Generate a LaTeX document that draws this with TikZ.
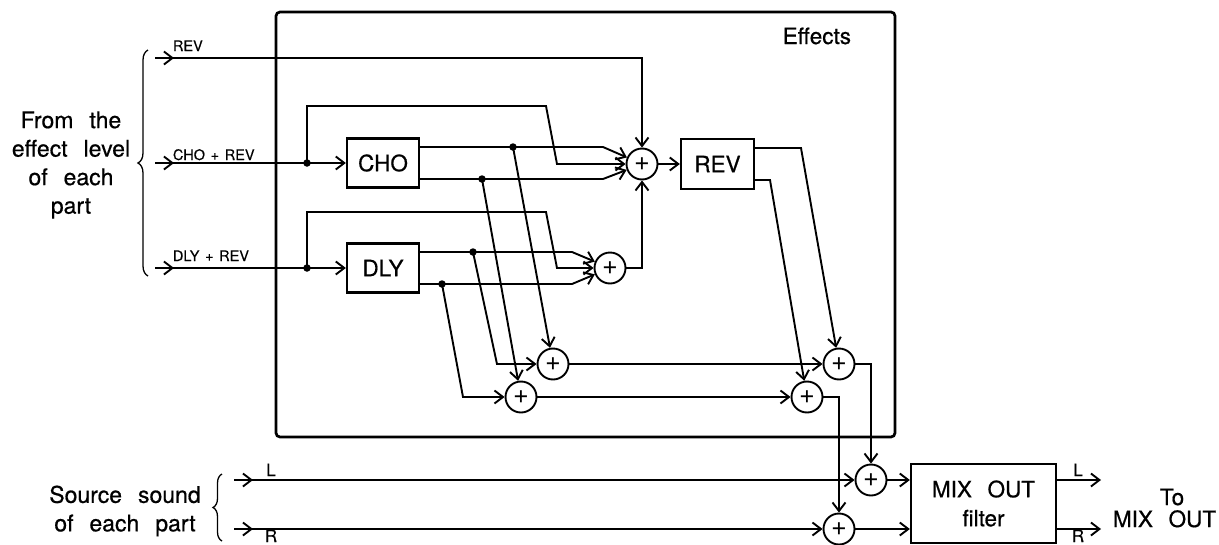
\documentclass[tikz,border=0pt]{standalone}
\usepackage{fontspec}
\setmainfont[WordSpace=2.5,FakeBold=0.6]{TeX Gyre Heros}
\newfontfamily\lblfont[WordSpace=1.4,FakeBold=0.4]{TeX Gyre Heros}
\newfontfamily\plusfont{TeX Gyre Heros}
\usetikzlibrary{arrows.meta,decorations.pathreplacing,calc}
\begin{document}
\begin{tikzpicture}[x=1pt,y=-1pt,
  line width=1.9pt,
  arr/.style={-{Straight Barb[length=8.5pt,width=13pt]}},
  blk/.style={draw, line width=2.3pt, minimum width=72pt, minimum height=49pt, inner sep=0pt, font=\fontsize{22.5}{27}\selectfont},
  sum/.style={draw, circle, line width=1.9pt, minimum size=31pt, inner sep=0pt, font=\plusfont\fontsize{27}{27}\selectfont},
  dot/.style={circle, fill, inner sep=0pt, minimum size=7.5pt},
  lab/.style={font=\lblfont\fontsize{14.5}{16}\selectfont, inner sep=0pt},
  lr/.style={font=\lblfont\fontsize{17}{20}\selectfont, inner sep=0pt},
  big/.style={font=\fontsize{23}{28.5}\selectfont, align=center, inner sep=0pt},
  brc/.style={line width=1.3pt, decorate},
]
\useasboundingbox (0,0) rectangle (1219,544);

% Effects frame
\node[draw, rounded corners=4pt, line width=2.7pt, minimum width=619pt, minimum height=425pt, inner sep=0pt] (eff) at (585.5,224.5) {};
\node[anchor=base east, inner sep=0pt, font=\fontsize{22.5}{27}\selectfont] (efflab) at (852,44) {Effects};

% blocks
\node[blk] (CHO) at (383,163) {CHO};
\node[blk] (DLY) at (383,268) {DLY};
\node[blk, minimum width=73pt, minimum height=50pt] (REV) at (717.5,164) {REV};
\node[blk, minimum width=145pt, minimum height=79pt, align=center, font=\fontsize{22.5}{29}\selectfont] (MIX) at (983.5,503.5) {MIX OUT\\filter};

% adders
\node[sum] (A1) at (642,164) {+};
\node[sum] (A2) at (610,268) {+};
\node[sum] (B1) at (553,364) {+};
\node[sum] (B2) at (521,397) {+};
\node[sum] (C1) at (839,364) {+};
\node[sum] (C2) at (807,397) {+};
\node[sum] (D1) at (871,480) {+};
\node[sum] (D2) at (839,529) {+};

% junctions
\node[dot] (jC) at (307,163) {};
\node[dot] (jD) at (307,268) {};
\node[dot] (jc1) at (513,147) {};
\node[dot] (jc2) at (482,179) {};
\node[dot] (jd1) at (473,252) {};
\node[dot] (jd2) at (442,284) {};

% input coordinates
\coordinate (inREV) at (155,58);
\coordinate (inCHO) at (155,163);
\coordinate (inDLY) at (155,268);
\coordinate (inL) at (234,480);
\coordinate (inR) at (234,529);
\coordinate (outL) at (1101,480);
\coordinate (outR) at (1101,529);

% port coordinates
\coordinate (choU) at ([yshift=16pt]CHO.east);
\coordinate (choD) at ([yshift=-16pt]CHO.east);
\coordinate (dlyU) at ([yshift=16pt]DLY.east);
\coordinate (dlyD) at ([yshift=-16pt]DLY.east);
\coordinate (revU) at ([yshift=16pt]REV.east);
\coordinate (revD) at ([yshift=-16pt]REV.east);

% REV input
\draw[arr] (inREV) -- ++(19,0);
\draw[arr] (inREV) -- (A1 |- inREV) -- (A1);

% CHO input
\draw[arr] (inCHO) -- ++(19,0);
\draw (inCHO) -- (jC.center);
\draw[arr] (jC.center) -- (CHO.west);
\draw[arr] (jC.center) -- (307,106) -- (546,106) -- (557,164) -- (A1);
\draw[arr] (choU) -- (603,147) -- (A1);
\draw[arr] (choD) -- (603,179) -- (A1);

% DLY input
\draw[arr] (inDLY) -- ++(19,0);
\draw (inDLY) -- (jD.center);
\draw[arr] (jD.center) -- (DLY.west);
\draw[arr] (jD.center) -- (307,212) -- (546,212) -- (557,268) -- (A2);
\draw[arr] (dlyU) -- (572,252) -- (A2);
\draw[arr] (dlyD) -- (572,284) -- (A2);
\draw[arr] (A2) -- (A1 |- A2) -- (A1);
\draw[arr] (A1) -- (REV);

% cross feeds
\draw[arr] (jc1.center) -- (B1);
\draw[arr] (jc2.center) -- (B2);
\draw[arr] (jd1.center) -- (497,364) -- (B1);
\draw[arr] (jd2.center) -- (463,397) -- (B2);

% REV outputs
\draw[arr] (revU) -- (801,148) -- (C1);
\draw[arr] (revD) -- (770,180) -- (C2);

\draw[arr] (B1) -- (C1);
\draw[arr] (B2) -- (C2);
\draw[arr] (C1) -- (C1 -| D1) -- (D1);
\draw[arr] (C2) -- (C2 -| D2) -- (D2);

% source sound
\draw[arr] (inL) -- ++(19,0);
\draw[arr] (inL) -- (D1);
\draw[arr] (inR) -- ++(19,0);
\draw[arr] (inR) -- (D2);
\draw[arr] (D1) -- (D1 -| MIX.west);
\draw[arr] (D2) -- (D2 -| MIX.west);
\draw[arr] (MIX.east |- outL) -- (outL);
\draw[arr] (MIX.east |- outR) -- (outR);

% braces
\draw[brc, decoration={brace, amplitude=10pt}] (148,276) -- (148,50);
\draw[brc, decoration={brace, amplitude=9pt}] (222,541) -- (222,474);

% texts
\node[big] (fromtxt) at (71,165) {From the\\effect level\\of each\\part};
\node[big] (srctxt) at (125,511) {Source sound\\of each part};
\node[anchor=base west, inner sep=0pt, font=\fontsize{22.5}{27}\selectfont] (totxt) at (1159,505) {To};
\node[anchor=base west, inner sep=0pt, font=\fontsize{22.5}{27}\selectfont] (mixtxt) at (1112,527) {MIX OUT};
\node[lab, anchor=base west] (lrev) at (172,51) {REV};
\node[lab, anchor=base west] (lcho) at (172,160) {CHO + REV};
\node[lab, anchor=base west] (ldly) at (172,261) {DLY + REV};
\node[lr, anchor=base] (linL) at (271,476) {L};
\node[lr, anchor=base] (linR) at (271,542) {R};
\node[lr, anchor=base] (loutL) at (1078,476) {L};
\node[lr, anchor=base] (loutR) at (1078,542) {R};
\end{tikzpicture}
\end{document}
